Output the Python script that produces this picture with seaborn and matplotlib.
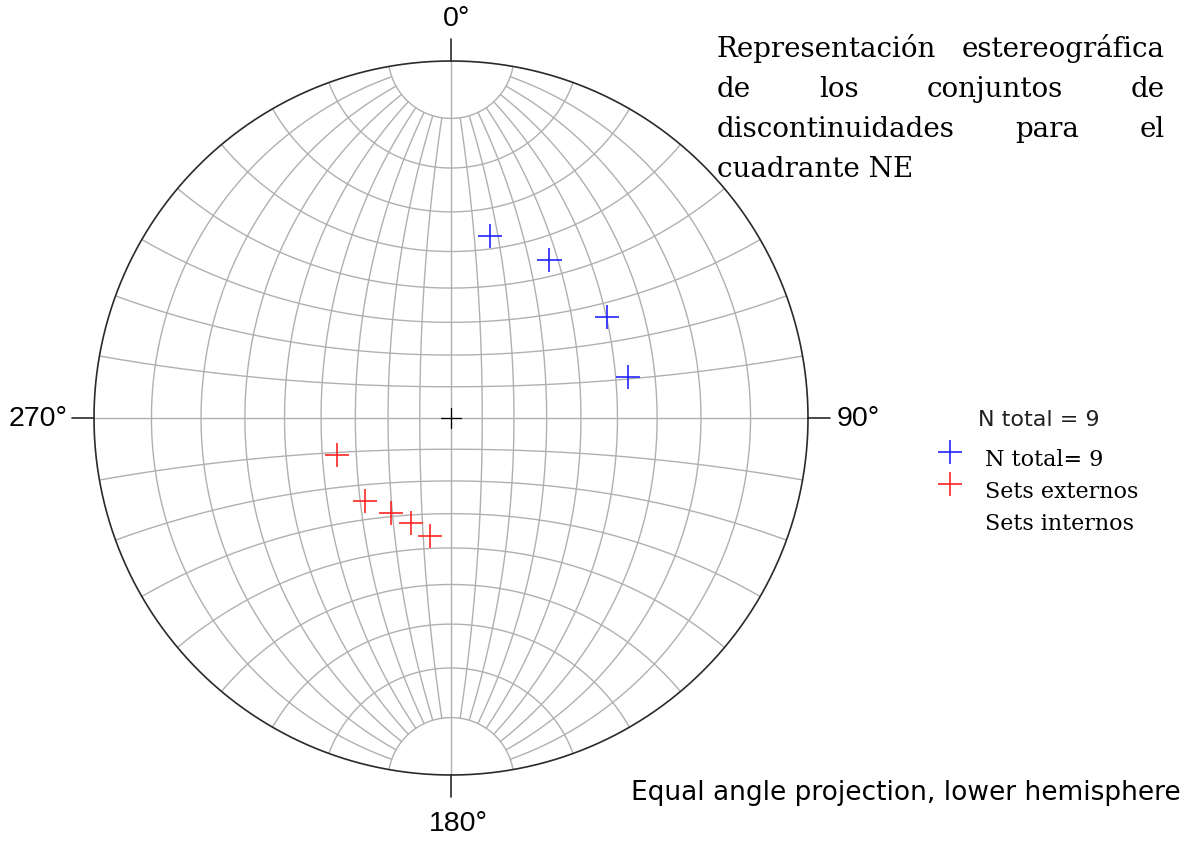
import numpy as np
import pandas as pd
import matplotlib
matplotlib.use("Agg")
import matplotlib.pyplot as plt
import seaborn as sns

# polos de las discontinuidades (azimut / buzamiento del polo, grados)
azim_ext = [12, 32, 57, 77]
buz_ext = [35, 35, 35, 36]
azim_int = [252, 226, 212, 201, 190]
buz_int = [53, 53, 55, 55, 53]

etiquetas_dir = ["0°", "90°", "180°", "270°"]
titulo_leyenda = "N total = 9"
leyenda = ["N total= 9", "Sets externos", "Sets internos"]
titulo = ["Representación estereográfica", "de los conjuntos de",
          "discontinuidades para el", "cuadrante NE"]
pie = "Equal angle projection, lower hemisphere"

sns.set_style("white")
plt.rcParams["text.color"] = "black"

W, H = 1190, 841
CX, CY, R = 451, 418, 357  # centro y radio de la red en pixeles


def proy(lam, phi):
    # proyeccion estereografica (igual angulo), hemisferio inferior, eje N-S
    lam, phi = np.radians(lam), np.radians(phi)
    x = np.cos(phi) * np.sin(lam)
    y = np.sin(phi)
    z = np.cos(phi) * np.cos(lam)
    return x / (1 + z), y / (1 + z)


# red de Wulff cada 10 grados
filas = []
k = 0
for lam in range(-80, 81, 10):
    phi = np.linspace(-80, 80, 200) if lam != 0 else np.linspace(-90, 90, 200)
    x, y = proy(lam, phi)
    filas.append(pd.DataFrame({"x": x, "y": y, "linea": k}))
    k += 1
for phi in range(-80, 81, 10):
    lam = np.linspace(-90, 90, 200)
    x, y = proy(lam, phi)
    filas.append(pd.DataFrame({"x": x, "y": y, "linea": k}))
    k += 1
red = pd.concat(filas, ignore_index=True)

# polos
polos = pd.DataFrame({
    "azim": azim_ext + azim_int,
    "buz": buz_ext + buz_int,
    "set": ["ext"] * len(azim_ext) + ["int"] * len(azim_int),
})
rr = np.tan(np.radians(90 - polos["buz"]) / 2)
polos["x"] = rr * np.sin(np.radians(polos["azim"]))
polos["y"] = rr * np.cos(np.radians(polos["azim"]))

fig = plt.figure(figsize=(W / 100, H / 100), dpi=100)
ax = fig.add_axes([0, 0, 1, 1])
ax.set_xlim(-CX / R, (W - CX) / R)
ax.set_ylim(-(H - CY) / R, CY / R)
ax.axis("off")

sns.lineplot(data=red, x="x", y="y", units="linea", estimator=None, sort=False,
             color="#b0b0b0", lw=1.0, ax=ax, legend=False)

t = np.linspace(0, 2 * np.pi, 720)
ax.plot(np.cos(t), np.sin(t), color="#2a2a2a", lw=1.2)

# marcas cardinales y cruz central
m = 22 / R
c = 10 / R
kw = dict(color="#2a2a2a", lw=1.2)
ax.plot([0, 0], [1, 1 + m], **kw)
ax.plot([0, 0], [-1, -1 - m], **kw)
ax.plot([1, 1 + m], [0, 0], **kw)
ax.plot([-1, -1 - m], [0, 0], **kw)
ax.plot([-c, c], [0, 0], color="black", lw=0.9)
ax.plot([0, 0], [-c, c], color="black", lw=0.9)

colores = {"ext": "#2424ff", "int": "#ff2424"}
sns.scatterplot(data=polos, x="x", y="y", hue="set", palette=colores, marker="+",
                s=300, linewidth=1.2, ax=ax, legend=False, zorder=5)


def fx(px):
    return px / W


def fy(py):
    return 1 - py / H


sans = "DejaVu Sans"
lab = dict(fontsize=20.5, family="Liberation Sans", color="black")
fig.text(fx(443), fy(19), etiquetas_dir[0], ha="left", va="center", **lab)
fig.text(fx(837), fy(419), etiquetas_dir[1], ha="left", va="center", **lab)
fig.text(fx(429), fy(824), etiquetas_dir[2], ha="left", va="center", **lab)
fig.text(fx(68), fy(419), etiquetas_dir[3], ha="right", va="center", **lab)

fig.text(fx(1181), fy(793), pie, ha="right", va="center", fontsize=19,
         family=sans, color="black")

# leyenda
fig.text(fx(978), fy(426), titulo_leyenda, ha="left", va="baseline",
         fontsize=16, family=sans, color="#202020")
for i, txt in enumerate(leyenda):
    fig.text(fx(985), fy(466 + 32 * i), txt, ha="left", va="baseline",
             fontsize=16, family="DejaVu Serif", color="black")
for i, s in enumerate(["ext", "int"]):
    ax.scatter([(950 - CX) / R], [(CY - (452 + 32 * i)) / R], marker="+",
               s=300, linewidths=1.2, color=colores[s])

# titulo justificado
fig.canvas.draw()
rend = fig.canvas.get_renderer()
x0, x1 = 717, 1165
for i, linea in enumerate(titulo):
    yb = fy(57 + 40 * i)
    if i == len(titulo) - 1:
        fig.text(fx(x0), yb, linea, ha="left", va="baseline", fontsize=20,
                 family="DejaVu Serif", color="black")
        continue
    palabras = linea.split()
    textos = [fig.text(0, yb, p, ha="left", va="baseline", fontsize=20,
                       family="DejaVu Serif", color="black") for p in palabras]
    anchos = [tx.get_window_extent(rend).width for tx in textos]
    hueco = (x1 - x0 - sum(anchos)) / (len(palabras) - 1)
    xp = x0
    for tx, a in zip(textos, anchos):
        tx.set_x(fx(xp))
        xp += a + hueco

fig.savefig("out.png", dpi=100)
